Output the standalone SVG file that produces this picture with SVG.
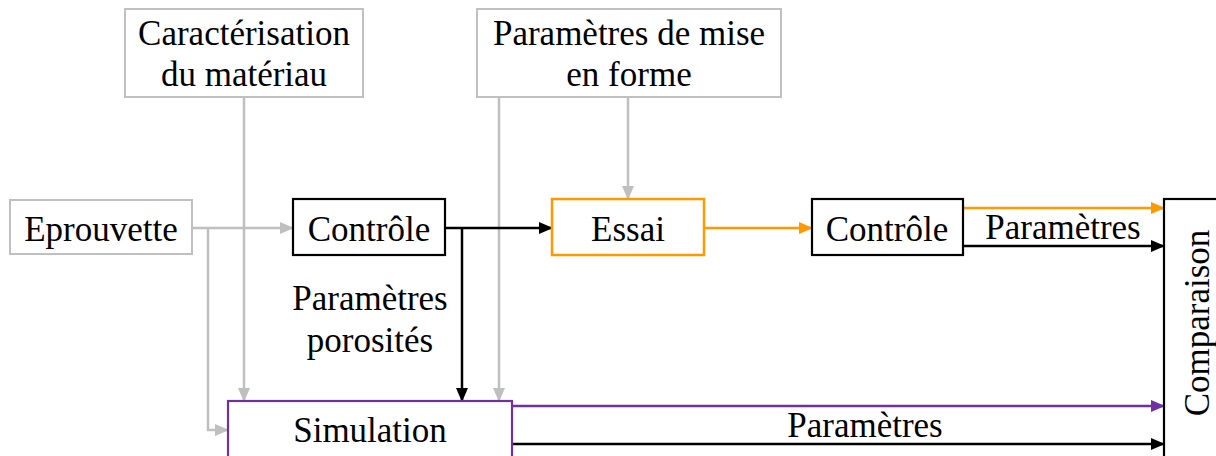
<svg xmlns="http://www.w3.org/2000/svg" width="1216" height="456" viewBox="0 0 1216 456">
<style>
text{font-family:"Liberation Serif","Times New Roman",serif;font-size:35px;fill:#000;text-anchor:middle}
.g{fill:#fff;stroke:#c0c0c0;stroke-width:2}
.k{fill:#fff;stroke:#000;stroke-width:2.2}
.o{fill:#fff;stroke:#ff9900;stroke-width:2.5}
.p{fill:#fff;stroke:#7030a0;stroke-width:2.2}
.lg{fill:none;stroke:#bfbfbf;stroke-width:2.5}
.lk{fill:none;stroke:#000;stroke-width:2.5}
.lo{fill:none;stroke:#ff9900;stroke-width:2.5}
.lp{fill:none;stroke:#7030a0;stroke-width:2.5}
</style>
<defs>
<marker id="ag" markerUnits="userSpaceOnUse" markerWidth="14" markerHeight="12" refX="13" refY="6" orient="auto"><path d="M0,0 L14,6 L0,12 z" fill="#bfbfbf"/></marker>
<marker id="ak" markerUnits="userSpaceOnUse" markerWidth="14" markerHeight="12" refX="13" refY="6" orient="auto"><path d="M0,0 L14,6 L0,12 z" fill="#000"/></marker>
<marker id="ao" markerUnits="userSpaceOnUse" markerWidth="14" markerHeight="12" refX="13" refY="6" orient="auto"><path d="M0,0 L14,6 L0,12 z" fill="#ff9900"/></marker>
<marker id="ap" markerUnits="userSpaceOnUse" markerWidth="14" markerHeight="12" refX="13" refY="6" orient="auto"><path d="M0,0 L14,6 L0,12 z" fill="#7030a0"/></marker>
</defs>
<g id="connectors">
<path class="lg" d="M192,228 H293" marker-end="url(#ag)"/>
<path class="lg" d="M208,228 V430 H228" marker-end="url(#ag)"/>
<path class="lg" d="M244,97 V401" marker-end="url(#ag)"/>
<path class="lg" d="M499,97 V401" marker-end="url(#ag)"/>
<path class="lg" d="M628,97 V199" marker-end="url(#ag)"/>
<path class="lk" d="M445,228 H552" marker-end="url(#ak)"/>
<path class="lk" d="M462,228 V401" marker-end="url(#ak)"/>
<path class="lo" d="M704,228 H812" marker-end="url(#ao)"/>
<path class="lo" d="M963,208 H1164" marker-end="url(#ao)"/>
<path class="lk" d="M963,246 H1164" marker-end="url(#ak)"/>
<path class="lp" d="M512,406 H1164" marker-end="url(#ap)"/>
<path class="lk" d="M512,444 H1164" marker-end="url(#ak)"/>
<text x="1063" y="239">Paramètres</text>
<text x="370" y="310">Paramètres</text>
<text x="370" y="352">porosités</text>
<text x="865" y="437">Paramètres</text>
</g>
<g id="eprouvette"><rect class="g" x="10" y="200" width="182" height="54"/><text x="101" y="241">Eprouvette</text></g>
<g id="caracterisation"><rect class="g" x="125" y="9" width="238" height="88"/><text x="244" y="45">Caractérisation</text><text x="244" y="86">du matériau</text></g>
<g id="parametres-mise"><rect class="g" x="477" y="9" width="304" height="88"/><text x="629" y="45">Paramètres de mise</text><text x="629" y="86">en forme</text></g>
<g id="controle1"><rect class="k" x="293" y="199" width="152" height="56"/><text x="369" y="241">Contrôle</text></g>
<g id="essai"><rect class="o" x="552" y="199" width="152" height="56"/><text x="628" y="241">Essai</text></g>
<g id="controle2"><rect class="k" x="812" y="199" width="151" height="56"/><text x="887" y="241">Contrôle</text></g>
<g id="simulation"><rect class="p" x="228" y="401" width="284" height="60"/><text x="370" y="442">Simulation</text></g>
<g id="comparaison"><rect class="k" x="1164" y="199" width="60" height="262"/><text transform="translate(1209,323) rotate(-90)">Comparaison</text></g>
</svg>
